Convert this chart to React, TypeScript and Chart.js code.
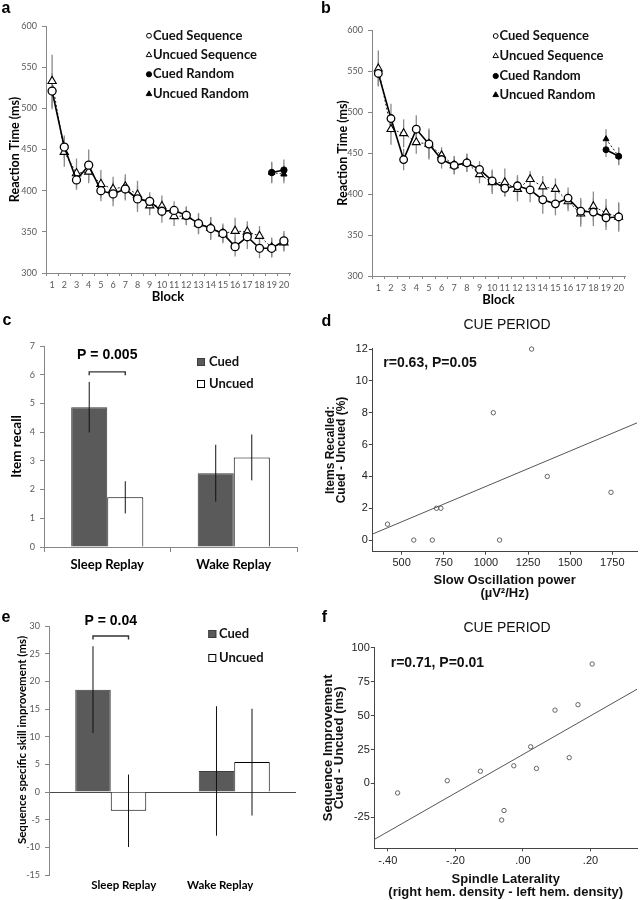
import React, { useEffect, useRef } from 'react';
import { Chart, registerables } from 'chart.js';

Chart.register(...registerables);

const EXCEL = 'Lato, "Open Sans", "DejaVu Sans", sans-serif';
const ARIAL = '"Liberation Sans", Arial, sans-serif';
const AXIS_GRAY = '#868686';
const TICK_GRAY = '#595959';

// ---------- Panel a ----------
const BLOCKS = ['1', '2', '3', '4', '5', '6', '7', '8', '9', '10', '11', '12', '13', '14', '15', '16', '17', '18', '19', '20'];
const A_CUED_SEQ = [521, 453, 413, 431, 400, 396, 402, 390, 387, 375, 376, 370, 360, 354, 348, 332, 344, 330, 330, 339];
const A_CUED_SEQ_ERR = [22, 14, 12, 19, 13, 15, 14, 16, 11, 14, 11, 11, 12, 14, 10, 12, 15, 12, 11, 12];
const A_UNCUED_SEQ = [533, 447, 421, 423, 408, 402, 405, 395, 382, 381, 369, 369, 360, 355, 348, 351, 350, 345, 331, 337];
const A_UNCUED_SEQ_ERR = [32, 18, 18, 14, 17, 15, 15, 17, 12, 13, 12, 11, 13, 13, 12, 16, 13, 12, 12, 11];
const A_CUED_RAND = [null, null, null, null, null, null, null, null, null, null, null, null, null, null, null, null, null, null, 422, 425];
const A_CUED_RAND_ERR = [null, null, null, null, null, null, null, null, null, null, null, null, null, null, null, null, null, null, 13, 13];
const A_UNCUED_RAND = [null, null, null, null, null, null, null, null, null, null, null, null, null, null, null, null, null, null, 422, 420];
const A_UNCUED_RAND_ERR = [null, null, null, null, null, null, null, null, null, null, null, null, null, null, null, null, null, null, 12, 11];

// ---------- Panel b ----------
const B_CUED_SEQ = [547, 492, 442, 479, 461, 442, 435, 438, 430, 416, 407, 410, 405, 393, 388, 395, 379, 378, 371, 372];
const B_CUED_SEQ_ERR = [15, 18, 13, 17, 19, 11, 11, 11, 10, 14, 10, 13, 15, 17, 14, 13, 16, 17, 15, 18];
const B_UNCUED_SEQ = [553, 479, 474, 463, 461, 447, 435, 438, 424, 414, 414, 406, 418, 409, 406, 391, 376, 385, 377, 372];
const B_UNCUED_SEQ_ERR = [22, 19, 17, 14, 17, 10, 11, 11, 11, 14, 17, 15, 10, 13, 13, 12, 16, 18, 17, 16];
const B_CUED_RAND = [null, null, null, null, null, null, null, null, null, null, null, null, null, null, null, null, null, null, 454, 446];
const B_CUED_RAND_ERR = [null, null, null, null, null, null, null, null, null, null, null, null, null, null, null, null, null, null, 9, 11];
const B_UNCUED_RAND = [null, null, null, null, null, null, null, null, null, null, null, null, null, null, null, null, null, null, 467, 446];
const B_UNCUED_RAND_ERR = [null, null, null, null, null, null, null, null, null, null, null, null, null, null, null, null, null, null, 12, 10];

const RT_Y_MIN = 300;
const RT_Y_MAX = 600;
const RT_Y_STEP = 50;

// ---------- Panel c ----------
const GROUPS = ['Sleep Replay', 'Wake Replay'];
const C_CUED = [4.87, 2.57];
const C_CUED_ERR = [0.88, 0.99];
const C_UNCUED = [1.73, 3.12];
const C_UNCUED_ERR = [0.56, 0.8];
const C_Y_TICKS = [0, 1, 2, 3, 4, 5, 6, 7];
const C_P_TEXT = 'P = 0.005';
const C_BRACKET_Y = 6.1;

// ---------- Panel d ----------
const D_X = [416, 572, 682, 707, 733, 1044, 1081, 1271, 1364, 1742];
const D_Y = [1, 0, 0, 2, 2, 8, 0, 12, 4, 3];
const D_X_TICKS = [500, 750, 1000, 1250, 1500, 1750];
const D_Y_TICKS = [0, 2, 4, 6, 8, 10, 12];
const D_X_RANGE = [326, 1897];
const D_Y_RANGE = [-0.73, 12.05];

// ---------- Panel e ----------
const E_CUED = [18.5, 3.8];
const E_CUED_ERR = [7.85, 11.7];
const E_UNCUED = [-3.4, 5.4];
const E_UNCUED_ERR = [6.55, 9.65];
const E_Y_TICKS = [-15, -10, -5, 0, 5, 10, 15, 20, 25, 30];
const E_P_TEXT = 'P = 0.04';
const E_BRACKET_Y = 28.2;

// ---------- Panel f ----------
const F_X = [-0.371, -0.224, -0.126, -0.063, -0.056, -0.027, 0.023, 0.04, 0.095, 0.137, 0.163, 0.205];
const F_Y = [-7, 2, 9, -27, -20, 13, 27, 11, 54, 19, 58, 88];
const F_X_TICKS = [-0.4, -0.2, 0, 0.2];
const F_Y_TICKS = [-25, 0, 25, 50, 75, 100];
const F_X_RANGE = [-0.44, 0.338];
const F_Y_RANGE = [-47.8, 100.3];

// ---------- helpers ----------
function leastSquares(xs: number[], ys: number[]) {
  const n = xs.length;
  const mx = xs.reduce((s, v) => s + v, 0) / n;
  const my = ys.reduce((s, v) => s + v, 0) / n;
  let sxy = 0;
  let sxx = 0;
  for (let i = 0; i < n; i++) {
    sxy += (xs[i] - mx) * (ys[i] - my);
    sxx += (xs[i] - mx) * (xs[i] - mx);
  }
  const b = sxy / sxx;
  return { a: my - b * mx, b };
}

function errorBars(when: string, color: string, width: number) {
  const draw = (chart: any) => {
    const ctx = chart.ctx;
    const ys = chart.scales.y;
    ctx.save();
    ctx.strokeStyle = color;
    ctx.lineWidth = width;
    chart.data.datasets.forEach((ds: any, i: number) => {
      if (!ds.errors) return;
      const meta = chart.getDatasetMeta(i);
      meta.data.forEach((el: any, j: number) => {
        const v = ds.data[j];
        const e = ds.errors[j];
        if (v == null || e == null) return;
        ctx.beginPath();
        ctx.moveTo(el.x, ys.getPixelForValue(v - e));
        ctx.lineTo(el.x, ys.getPixelForValue(v + e));
        ctx.stroke();
      });
    });
    ctx.restore();
  };
  return {
    id: 'errorBars',
    beforeDatasetsDraw(chart: any) { if (when === 'before') draw(chart); },
    afterDatasetsDraw(chart: any) { if (when === 'after') draw(chart); },
  };
}

type TItem = { t: string; x: number; y: number; font: string; color?: string; align?: CanvasTextAlign; base?: CanvasTextBaseline; rot?: number };
function textPlugin(items: TItem[]) {
  return {
    id: 'texts',
    afterDraw(chart: any) {
      const ctx = chart.ctx;
      items.forEach((it) => {
        ctx.save();
        ctx.font = it.font;
        ctx.fillStyle = it.color || '#000';
        ctx.textAlign = it.align || 'left';
        ctx.textBaseline = it.base || 'middle';
        ctx.translate(it.x, it.y);
        if (it.rot) ctx.rotate(it.rot);
        ctx.fillText(it.t, 0, 0);
        ctx.restore();
      });
    },
  };
}

function rtLegend(sx: number, tx: number, ys: number[]) {
  return {
    id: 'rtLegend',
    afterDraw(chart: any) {
      const ctx = chart.ctx;
      ctx.save();
      chart.data.datasets.forEach((ds: any, i: number) => {
        const y = ys[i];
        const filled = ds.pointBackgroundColor === '#000';
        ctx.beginPath();
        if (ds.pointStyle === 'circle') {
          ctx.arc(sx, y, filled ? 2.6 : 2.4, 0, Math.PI * 2);
        } else {
          const r = 3.2;
          ctx.moveTo(sx, y - r);
          ctx.lineTo(sx + r * 0.866, y + r * 0.5);
          ctx.lineTo(sx - r * 0.866, y + r * 0.5);
          ctx.closePath();
        }
        ctx.fillStyle = filled ? '#000' : '#fff';
        ctx.fill();
        ctx.strokeStyle = '#000';
        ctx.lineWidth = 1;
        ctx.stroke();
        ctx.fillStyle = '#111';
        ctx.font = `bold 13px ${EXCEL}`;
        ctx.textBaseline = 'middle';
        ctx.textAlign = 'left';
        ctx.fillText(ds.label, tx, y);
      });
      ctx.restore();
    },
  };
}

function barLegend(sx: number, size: number, tx: number, ys: number[]) {
  return {
    id: 'barLegend',
    afterDraw(chart: any) {
      const ctx = chart.ctx;
      ctx.save();
      chart.data.datasets.forEach((ds: any, i: number) => {
        const y = ys[i];
        ctx.fillStyle = ds.backgroundColor;
        ctx.fillRect(sx, y - size / 2, size, size);
        ctx.strokeStyle = ds.borderColor;
        ctx.lineWidth = 1;
        ctx.strokeRect(sx + 0.5, y - size / 2 + 0.5, size - 1, size - 1);
        ctx.fillStyle = '#111';
        ctx.font = `bold 13px ${EXCEL}`;
        ctx.textBaseline = 'middle';
        ctx.textAlign = 'left';
        ctx.fillText(ds.label, tx, y);
      });
      ctx.restore();
    },
  };
}

function bracket(value: number, text: string, textGap: number) {
  return {
    id: 'bracket',
    afterDraw(chart: any) {
      const ctx = chart.ctx;
      const x0 = chart.getDatasetMeta(0).data[0].x;
      const x1 = chart.getDatasetMeta(1).data[0].x;
      const y = chart.scales.y.getPixelForValue(value);
      ctx.save();
      ctx.strokeStyle = '#333';
      ctx.lineWidth = 1.4;
      ctx.beginPath();
      ctx.moveTo(x0, y + 3.5);
      ctx.lineTo(x0, y);
      ctx.lineTo(x1, y);
      ctx.lineTo(x1, y + 3.5);
      ctx.stroke();
      ctx.fillStyle = '#000';
      ctx.font = `bold 14px ${ARIAL}`;
      ctx.textAlign = 'center';
      ctx.textBaseline = 'middle';
      ctx.fillText(text, (x0 + x1) / 2, y - textGap);
      ctx.restore();
    },
  };
}

const letterFont = `bold 16px ${ARIAL}`;

// ---------- configs ----------
function rtConfig(s: any): any {
  return {
    type: 'line',
    data: {
      labels: BLOCKS,
      datasets: [
        { label: 'Cued Sequence', data: s.cs, errors: s.cse, borderColor: '#000', borderWidth: 1.6, pointStyle: 'circle', pointRadius: s.r, pointBackgroundColor: '#fff', pointBorderColor: '#000', pointBorderWidth: 1.3 },
        { label: 'Uncued Sequence', data: s.us, errors: s.use, borderColor: '#222', borderWidth: 1, borderDash: [2, 2], pointStyle: 'triangle', pointRadius: s.r + 0.8, pointBackgroundColor: '#fff', pointBorderColor: '#000', pointBorderWidth: 1.1 },
        { label: 'Cued Random', data: s.cr, errors: s.cre, borderColor: '#000', borderWidth: 1.6, pointStyle: 'circle', pointRadius: s.r - 0.8, pointBackgroundColor: '#000', pointBorderColor: '#000', pointBorderWidth: 1 },
        { label: 'Uncued Random', data: s.ur, errors: s.ure, borderColor: '#222', borderWidth: 1, borderDash: [2, 2], pointStyle: 'triangle', pointRadius: s.r - 0.4, pointBackgroundColor: '#000', pointBorderColor: '#000', pointBorderWidth: 1 },
      ],
    },
    options: {
      responsive: false,
      animation: false,
      layout: { padding: { left: 0, top: s.top, right: s.right, bottom: 0 } },
      plugins: { legend: { display: false }, tooltip: { enabled: false } },
      elements: { line: { tension: 0 } },
      scales: {
        x: {
          type: 'category',
          offset: true,
          grid: { display: true, drawOnChartArea: false, tickLength: 3, color: AXIS_GRAY, offset: true },
          border: { color: AXIS_GRAY },
          ticks: { color: TICK_GRAY, font: { family: EXCEL, size: 9 }, padding: 3.5, maxRotation: 0, autoSkip: false },
          title: { display: true, text: 'Block', color: '#000', font: { family: EXCEL, size: 13, weight: 'bold' }, padding: { top: 0, bottom: s.xTitlePad } },
          afterFit: (sc: any) => { sc.height = s.xH; },
        },
        y: {
          min: RT_Y_MIN,
          max: RT_Y_MAX,
          ticks: { stepSize: RT_Y_STEP, color: TICK_GRAY, font: { family: EXCEL, size: 9 }, padding: 5 },
          grid: { drawOnChartArea: false, tickLength: 4, color: AXIS_GRAY },
          border: { color: AXIS_GRAY },
          title: { display: true, text: 'Reaction Time (ms)', color: '#000', font: { family: EXCEL, size: 12.5, weight: 'bold' }, padding: { top: s.yTitlePad, bottom: 0 } },
          afterFit: (sc: any) => { sc.width = s.yW; },
        },
      },
    },
    plugins: [
      errorBars('before', '#8a8a8a', 1.3),
      rtLegend(s.lsx, s.ltx, s.lys),
      textPlugin([{ t: s.letter, x: s.lx, y: s.ly, font: letterFont, base: 'alphabetic' }]),
    ],
  };
}

function barConfig(s: any): any {
  return {
    type: 'bar',
    data: {
      labels: GROUPS,
      datasets: [
        { label: 'Cued', data: s.cued, errors: s.cuedErr, backgroundColor: '#5a5a5a', borderColor: '#3c3c3c', borderWidth: 1, categoryPercentage: s.cp, barPercentage: 1 },
        { label: 'Uncued', data: s.uncued, errors: s.uncuedErr, backgroundColor: '#ffffff', borderColor: '#000000', borderWidth: 1, categoryPercentage: s.cp, barPercentage: 1 },
      ],
    },
    options: {
      responsive: false,
      animation: false,
      layout: { padding: { left: 0, top: s.top, right: s.right, bottom: 0 } },
      plugins: { legend: { display: false }, tooltip: { enabled: false } },
      scales: {
        x: s.xScale,
        y: {
          min: s.yTicks[0],
          max: s.yTicks[s.yTicks.length - 1],
          afterBuildTicks: (sc: any) => { sc.ticks = s.yTicks.map((v: number) => ({ value: v })); },
          ticks: { color: TICK_GRAY, font: { family: EXCEL, size: 9 }, padding: 5, callback: (v: any) => String(v) },
          grid: s.yGrid,
          border: { color: AXIS_GRAY },
          title: s.yTitle,
          afterFit: (sc: any) => { sc.width = s.yW; },
        },
      },
    },
    plugins: [
      errorBars('after', '#111', 1),
      bracket(s.bracketY, s.pText, s.pGap),
      barLegend(s.lsx, 8, s.ltx, s.lys),
      textPlugin(s.texts),
    ],
  };
}

function scatterConfig(s: any): any {
  const fit = leastSquares(s.xs, s.ys);
  const pts = s.xs.map((x: number, i: number) => ({ x, y: s.ys[i] }));
  const line = [
    { x: s.xr[0], y: fit.a + fit.b * s.xr[0] },
    { x: s.xr[1], y: fit.a + fit.b * s.xr[1] },
  ];
  return {
    type: 'scatter',
    data: {
      datasets: [
        { data: pts, clip: false, pointRadius: 2.2, pointBorderWidth: 0.9, pointBorderColor: '#555', pointBackgroundColor: 'rgba(0,0,0,0)', showLine: false },
        { data: line, pointRadius: 0, showLine: true, borderColor: '#555', borderWidth: 1 },
      ],
    },
    options: {
      responsive: false,
      animation: false,
      layout: { padding: { left: 0, top: s.top, right: 2, bottom: 0 } },
      plugins: { legend: { display: false }, tooltip: { enabled: false } },
      scales: {
        x: {
          type: 'linear',
          min: s.xr[0],
          max: s.xr[1],
          afterBuildTicks: (sc: any) => { sc.ticks = s.xTicks.map((v: number) => ({ value: v })); },
          ticks: { color: '#222', font: { family: ARIAL, size: 11 }, padding: s.xTickPad, maxRotation: 0, autoSkip: false, callback: s.xFmt },
          grid: { drawOnChartArea: false, tickLength: 3, color: '#444' },
          border: { color: '#444' },
          title: { display: true, text: s.xTitle, color: '#111', font: { family: ARIAL, size: 13, weight: 'bold', lineHeight: 0.96 }, padding: { top: 0, bottom: s.xTitlePad } },
          afterFit: (sc: any) => { sc.height = s.xH; },
        },
        y: {
          type: 'linear',
          min: s.yr[0],
          max: s.yr[1],
          afterBuildTicks: (sc: any) => { sc.ticks = s.yTicks.map((v: number) => ({ value: v })); },
          ticks: { color: '#222', font: { family: ARIAL, size: 11 }, padding: 1, callback: (v: any) => String(v) },
          grid: { drawOnChartArea: false, tickLength: 3.5, color: '#444' },
          border: { color: '#444' },
          title: { display: true, text: s.yTitle, color: '#111', font: { family: ARIAL, size: s.yTitleSize, weight: 'bold', lineHeight: s.yTitleLH }, padding: { top: s.yTitlePad, bottom: 0 } },
          afterFit: (sc: any) => { sc.width = s.yW; },
        },
      },
    },
    plugins: [textPlugin(s.texts)],
  };
}

const makeA = () => rtConfig({
  cs: A_CUED_SEQ, cse: A_CUED_SEQ_ERR, us: A_UNCUED_SEQ, use: A_UNCUED_SEQ_ERR,
  cr: A_CUED_RAND, cre: A_CUED_RAND_ERR, ur: A_UNCUED_RAND, ure: A_UNCUED_RAND_ERR,
  r: 4, top: 26, right: 30, yW: 46, xH: 37, xTitlePad: 5, yTitlePad: 7.5,
  lsx: 149, ltx: 153, lys: [35.7, 55, 74.3, 94], letter: 'a', lx: 1.5, ly: 13.3,
});

const makeB = () => rtConfig({
  cs: B_CUED_SEQ, cse: B_CUED_SEQ_ERR, us: B_UNCUED_SEQ, use: B_UNCUED_SEQ_ERR,
  cr: B_CUED_RAND, cre: B_CUED_RAND_ERR, ur: B_UNCUED_RAND, ure: B_UNCUED_RAND_ERR,
  r: 3.8, top: 30, right: 17, yW: 52, xH: 34, xTitlePad: 2.2, yTitlePad: 15.5,
  lsx: 175.7, ltx: 179.5, lys: [36, 56, 76, 95], letter: 'b', lx: 1, ly: 13,
});

const makeC = () => barConfig({
  cued: C_CUED, cuedErr: C_CUED_ERR, uncued: C_UNCUED, uncuedErr: C_UNCUED_ERR,
  cp: 0.57, top: 46, right: 23, yW: 44, yTicks: C_Y_TICKS,
  xScale: {
    type: 'category',
    offset: true,
    grid: { display: true, drawOnChartArea: false, tickLength: 5, color: AXIS_GRAY, offset: true },
    border: { color: AXIS_GRAY },
    ticks: { color: '#000', font: { family: EXCEL, size: 13, weight: 'bold' }, padding: 5, maxRotation: 0 },
    afterFit: (sc: any) => { sc.height = 33; },
  },
  yGrid: { drawOnChartArea: false, tickLength: 4, color: AXIS_GRAY },
  yTitle: { display: true, text: 'Item recall', color: '#000', font: { family: EXCEL, size: 13.5, weight: 'bold' }, padding: { top: 8.6, bottom: 0 } },
  bracketY: C_BRACKET_Y, pText: C_P_TEXT, pGap: 16.7,
  lsx: 197, ltx: 209, lys: [62, 84],
  texts: [{ t: 'c', x: 2.5, y: 25, font: letterFont, base: 'alphabetic' }],
});

function eCategoryLabels() {
  return {
    id: 'eCats',
    afterDraw(chart: any) {
      const ctx = chart.ctx;
      const xs = chart.scales.x;
      const shifts = [13, -14];
      ctx.save();
      ctx.font = `bold 11.5px ${EXCEL}`;
      ctx.fillStyle = '#000';
      ctx.textAlign = 'center';
      ctx.textBaseline = 'middle';
      GROUPS.forEach((g, i) => ctx.fillText(g, xs.getPixelForValue(i) + shifts[i], 305));
      ctx.restore();
    },
  };
}

const makeE = () => {
  const cfg = barConfig({
    cued: E_CUED, cuedErr: E_CUED_ERR, uncued: E_UNCUED, uncuedErr: E_UNCUED_ERR,
    cp: 0.575, top: 46, right: 24, yW: 49, yTicks: E_Y_TICKS,
    xScale: {
      type: 'category',
      offset: true,
      grid: { display: false },
      border: { display: false },
      ticks: { display: false },
      afterFit: (sc: any) => { sc.height = 25; },
    },
    yGrid: {
      drawOnChartArea: true,
      tickLength: 4,
      tickColor: AXIS_GRAY,
      color: (c: any) => (c.tick && c.tick.value === 0 ? '#4a4a4a' : 'rgba(0,0,0,0)'),
    },
    yTitle: { display: false },
    bracketY: E_BRACKET_Y, pText: E_P_TEXT, pGap: 15,
    lsx: 208.3, ltx: 219, lys: [54, 78],
    texts: [
      { t: 'e', x: 1.5, y: 41.7, font: letterFont, base: 'alphabetic' },
      { t: 'Sequence specific skill improvement (ms)', x: 22.5, y: 160, font: `bold 11.5px ${EXCEL}`, align: 'center', rot: -Math.PI / 2 },
    ],
  });
  cfg.plugins.push(eCategoryLabels());
  return cfg;
};

const makeD = () => scatterConfig({
  xs: D_X, ys: D_Y, xr: D_X_RANGE, yr: D_Y_RANGE, xTicks: D_X_TICKS, yTicks: D_Y_TICKS,
  top: 48.3, yW: 52.3, xH: 53.3, xTickPad: 2, xTitlePad: 5.8,
  xFmt: (v: any) => String(v),
  xTitle: ['Slow Oscillation power', '(µV²/Hz)'],
  yTitle: ['Items Recalled:', 'Cued - Uncued (%)'], yTitleSize: 12, yTitleLH: 0.92, yTitlePad: 5.5,
  texts: [
    { t: 'd', x: 1.5, y: 26, font: letterFont, base: 'alphabetic' },
    { t: 'CUE PERIOD', x: 187, y: 25, font: `14px ${ARIAL}`, align: 'center', color: '#111' },
    { t: 'r=0.63, P=0.05', x: 63.3, y: 63.3, font: `bold 14px ${ARIAL}`, color: '#111' },
  ],
});

const makeF = () => scatterConfig({
  xs: F_X, ys: F_Y, xr: F_X_RANGE, yr: F_Y_RANGE, xTicks: F_X_TICKS, yTicks: F_Y_TICKS,
  top: 44.3, yW: 54.3, xH: 51.7, xTickPad: 3, xTitlePad: 1.5,
  xFmt: (v: any) => (v < 0 ? '-' : '') + Math.abs(v).toFixed(2).replace(/^0/, ''),
  xTitle: ['Spindle Laterality', '(right hem. density - left hem. density)'],
  yTitle: ['Sequence Improvement', 'Cued - Uncued (ms)'], yTitleSize: 13, yTitleLH: 0.87, yTitlePad: 2.4,
  texts: [
    { t: 'f', x: 1.7, y: 18.7, font: letterFont, base: 'alphabetic' },
    { t: 'CUE PERIOD', x: 187, y: 25.3, font: `14px ${ARIAL}`, align: 'center', color: '#111' },
    { t: 'r=0.71, P=0.01', x: 70.7, y: 60.3, font: `bold 14px ${ARIAL}`, color: '#111' },
  ],
});

function ChartCanvas({ x, y, w, h, make }: { x: number; y: number; w: number; h: number; make: () => any }) {
  const ref = useRef<HTMLCanvasElement>(null);
  useEffect(() => {
    const chart = new Chart(ref.current as HTMLCanvasElement, make());
    return () => chart.destroy();
  }, []);
  return (
    <canvas
      ref={ref}
      width={w}
      height={h}
      style={{ position: 'absolute', left: x, top: y, width: w, height: h }}
    />
  );
}

export default function App() {
  return (
    <div style={{ position: 'absolute', left: 0, top: 0, width: 642, height: 900, background: '#fff', overflow: 'hidden' }}>
      <ChartCanvas x={0} y={0} w={320} h={310} make={makeA} />
      <ChartCanvas x={320} y={0} w={322} h={310} make={makeB} />
      <ChartCanvas x={0} y={300} w={320} h={280} make={makeC} />
      <ChartCanvas x={320} y={300} w={322} h={305} make={makeD} />
      <ChartCanvas x={0} y={580} w={320} h={320} make={makeE} />
      <ChartCanvas x={320} y={603} w={322} h={297} make={makeF} />
    </div>
  );
}
